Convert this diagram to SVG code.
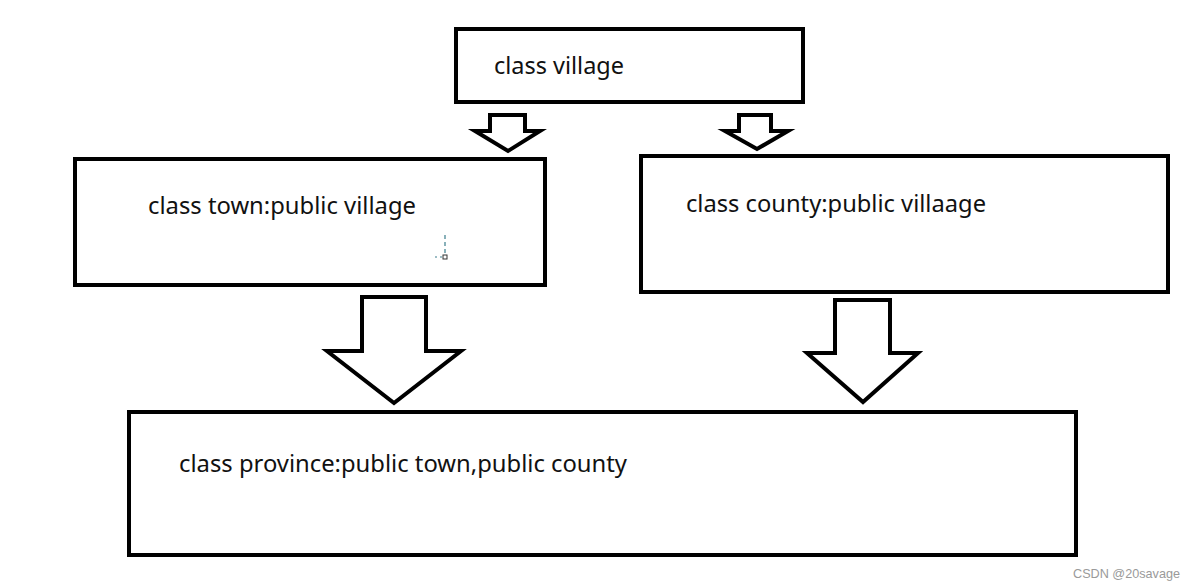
<svg xmlns="http://www.w3.org/2000/svg" width="1196" height="587" viewBox="0 0 1196 587">
<style>
.box{fill:#fff;stroke:#000;stroke-width:4}
.arr{fill:#fff;stroke:#000;stroke-width:4;stroke-linejoin:miter}
.lbl{font-family:"Noto Sans","Open Sans",sans-serif;font-size:23px;fill:#111}
.wm{font-family:"Liberation Sans",Arial,sans-serif;font-size:13px;fill:#9a9a9a}
</style>
<rect width="1196" height="587" fill="#fff"/>
<g id="connectors">
<polygon class="arr" points="490,115 525,115 525,131 540,131 508,151 475,131 490,131"/>
<polygon class="arr" points="739,115 771,115 771,131 788,131 757,149 725,131 739,131"/>
<polygon class="arr" points="362,297 426,297 426,351 461,351 394,403 327,351 362,351"/>
<polygon class="arr" points="835,300 890,300 890,353 918,353 863,402 807,353 835,353"/>
</g>
<g id="village">
<rect class="box" x="456" y="29" width="347" height="73"/>
<text class="lbl" x="494" y="74" textLength="130" lengthAdjust="spacingAndGlyphs">class village</text>
</g>
<g id="town">
<rect class="box" x="75" y="159" width="470" height="126"/>
<text class="lbl" x="148" y="214" textLength="268" lengthAdjust="spacingAndGlyphs">class town:public village</text>
<line x1="445" y1="235" x2="445" y2="255" stroke="#3a7d8c" stroke-width="1.2" stroke-dasharray="4,3"/>
<line x1="435" y1="257" x2="443" y2="257" stroke="#3a7d8c" stroke-width="1.2" stroke-dasharray="2,3"/>
<rect x="443" y="255" width="4" height="4" fill="none" stroke="#333" stroke-width="1"/>
</g>
<g id="county">
<rect class="box" x="641" y="156" width="527" height="136"/>
<text class="lbl" x="686" y="212" textLength="300" lengthAdjust="spacingAndGlyphs">class county:public villaage</text>
</g>
<g id="province">
<rect class="box" x="129" y="412" width="947" height="143"/>
<text class="lbl" x="179" y="472" textLength="448" lengthAdjust="spacingAndGlyphs">class province:public town,public county</text>
</g>
<text class="wm" x="1073" y="578" textLength="107" lengthAdjust="spacingAndGlyphs">CSDN @20savage</text>
</svg>
